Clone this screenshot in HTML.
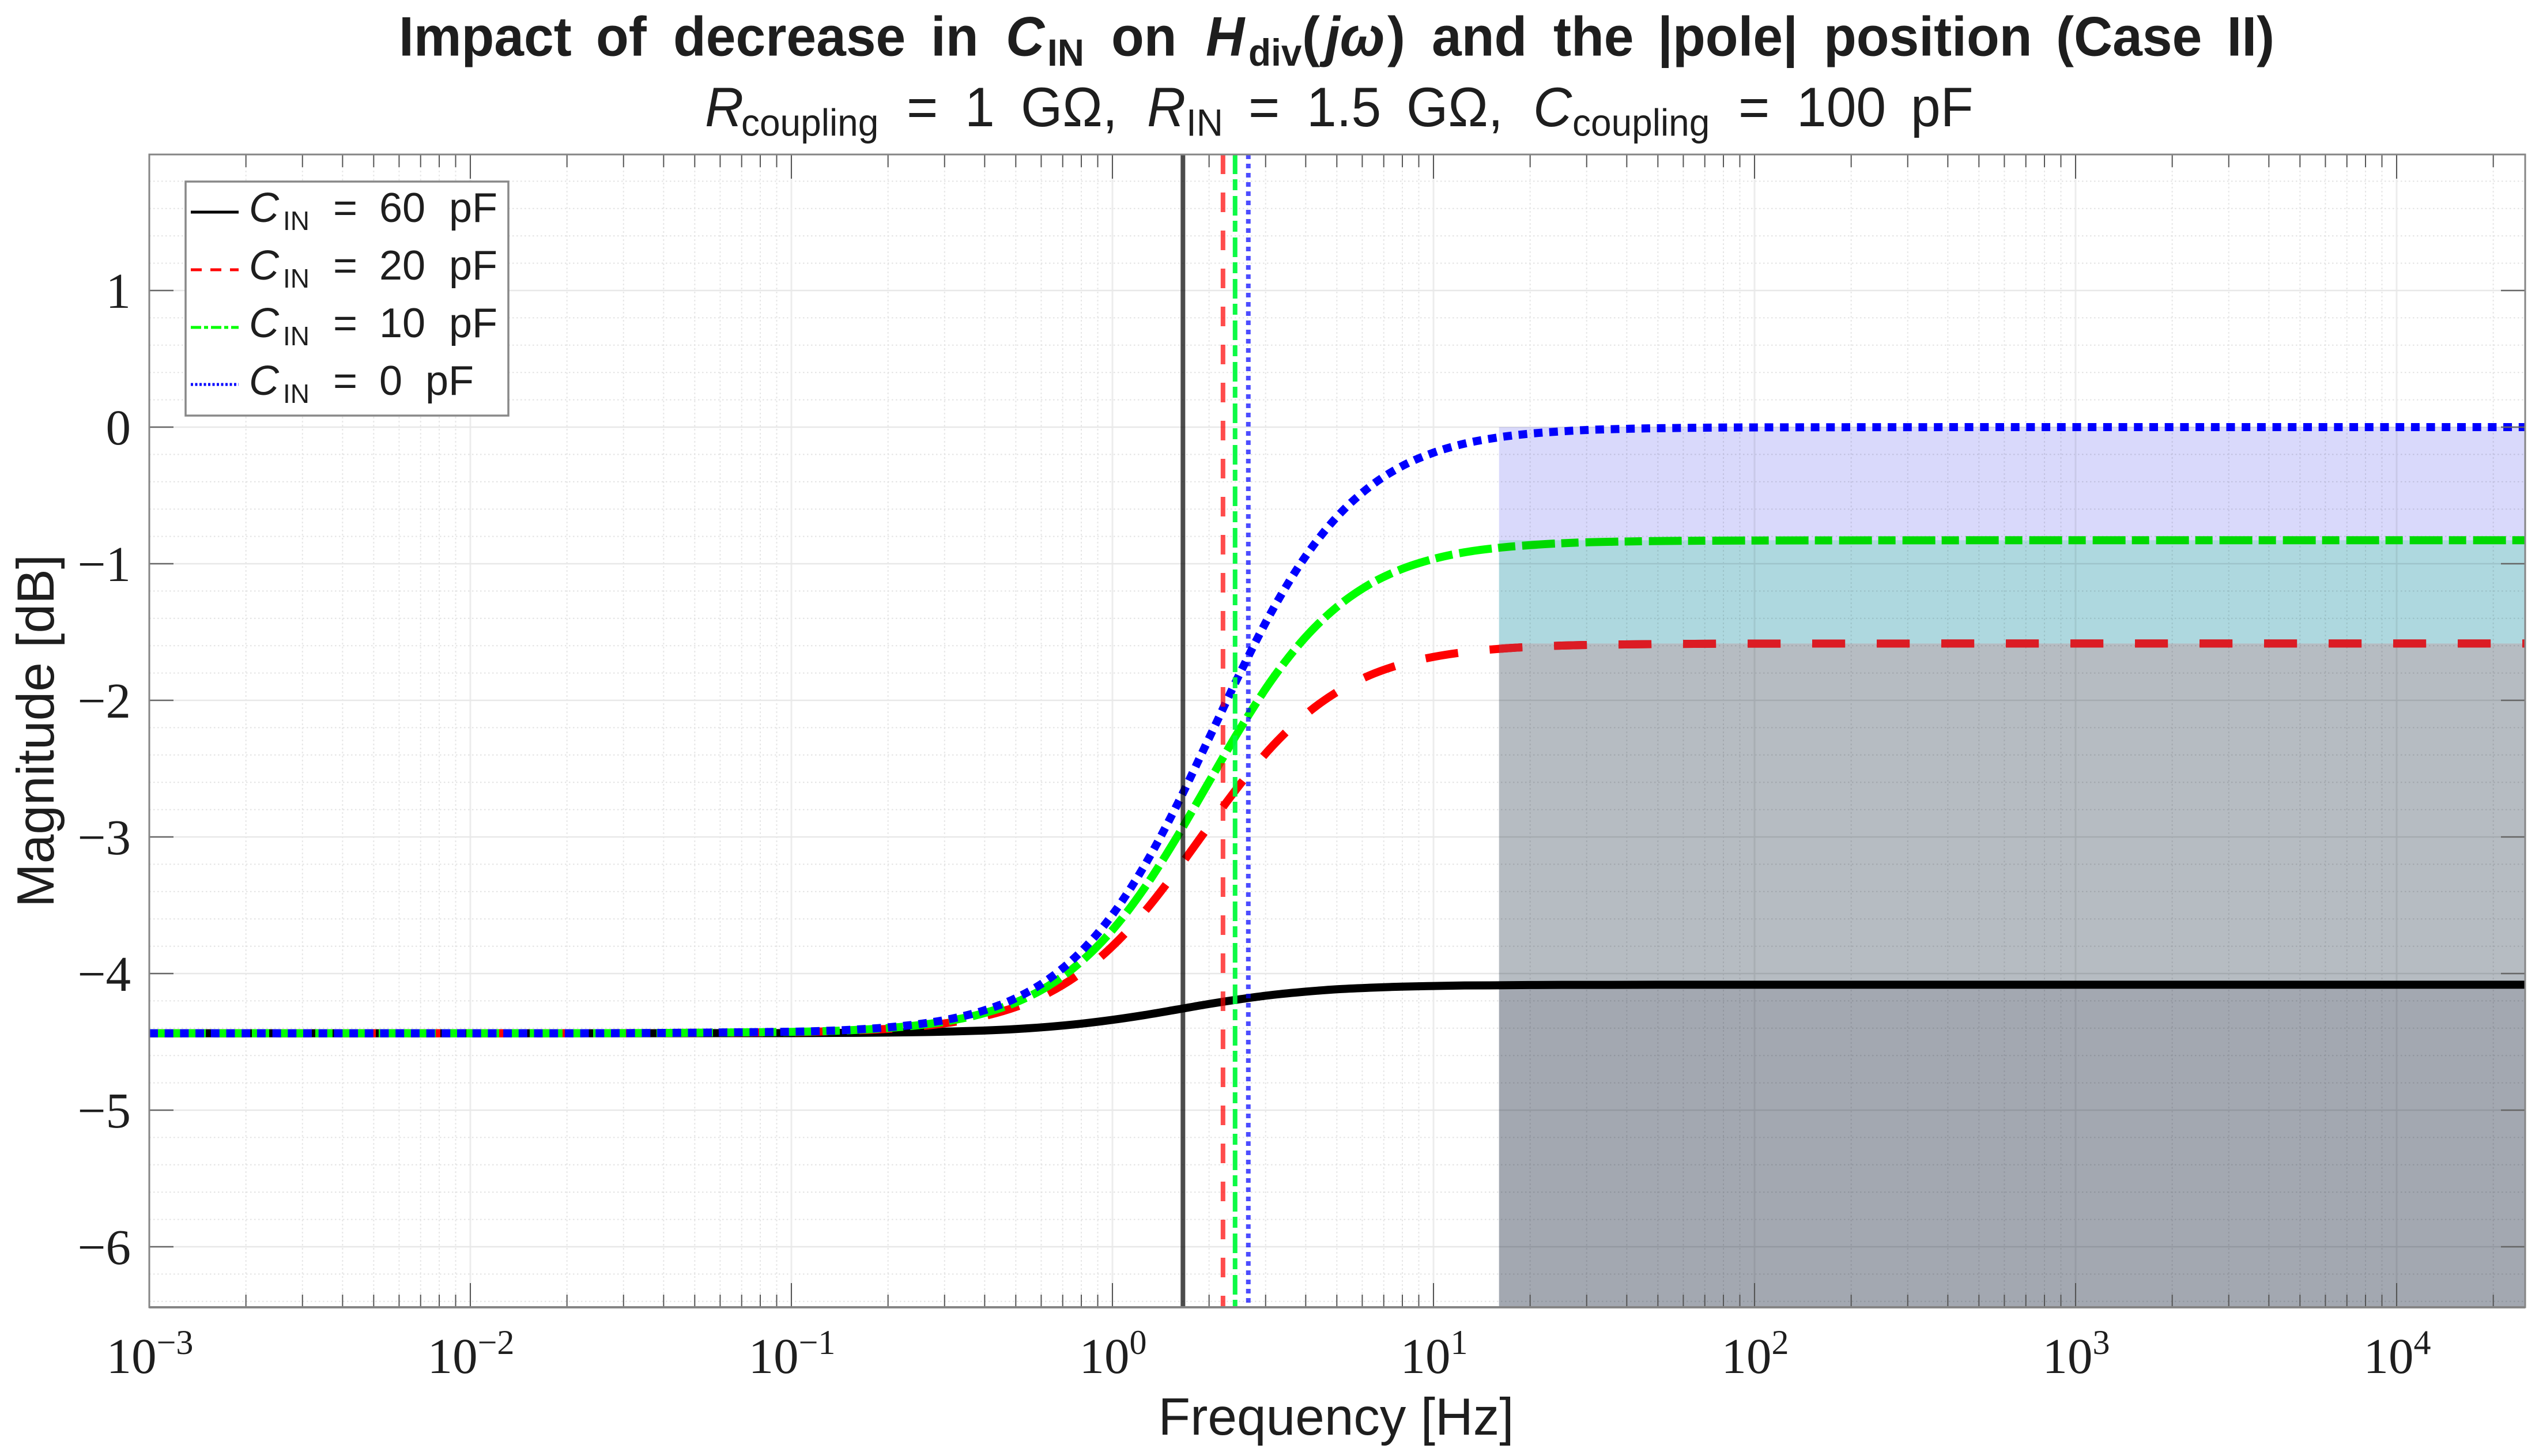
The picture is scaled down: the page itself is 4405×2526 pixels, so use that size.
<!DOCTYPE html>
<html lang="en">
<head>
<meta charset="utf-8">
<title>Impact of decrease in C_IN on H_div</title>
<style>
html,body{margin:0;padding:0;background:#fff;}
svg{display:block;}
text{font-family:"Liberation Sans",sans-serif;fill:#1e1e1e;}
.serif{font-family:"Liberation Serif",serif;}
</style>
</head>
<body>
<svg id="chart" xmlns="http://www.w3.org/2000/svg" width="4405" height="2526" viewBox="0 0 4405 2526">
  <rect x="0" y="0" width="4405" height="2526" fill="#ffffff"/>
  <rect x="259" y="268" width="4122" height="2000" fill="#ffffff"/>
  <defs id="chart-defs"><clipPath id="plot-clip"><rect x="259" y="268" width="4122" height="2000"/></clipPath></defs>
  <g id="grid-layer"></g>
  <g id="curve-layer" clip-path="url(#plot-clip)"></g>
  <g id="band-layer"></g>
  <g id="pole-layer"></g>
  <g id="tick-layer"></g>
  <rect x="259" y="268" width="4122" height="2000" fill="none" stroke="#858585" stroke-width="3"/>
  <line x1="259" y1="2268" x2="4381" y2="2268" stroke="#858585" stroke-width="4"/>
  <g id="label-layer"></g>

  <text transform="translate(0,96.5) scale(1,1.035)" y="0" font-size="93" font-weight="bold"><tspan x="692">Impact </tspan><tspan x="1034">of </tspan><tspan x="1168">decrease </tspan><tspan x="1615">in </tspan><tspan x="1745" font-style="italic">C</tspan><tspan x="1817" font-size="64" dy="17">IN</tspan><tspan x="1928" dy="-17">on </tspan><tspan x="2092" font-style="italic">H</tspan><tspan x="2166" font-size="64" dy="17">div</tspan><tspan x="2259" dy="-17">(</tspan><tspan x="2299" font-style="italic">jω</tspan><tspan x="2407">) </tspan><tspan x="2484">and </tspan><tspan x="2695">the </tspan><tspan x="2876">|pole| </tspan><tspan x="3164">position </tspan><tspan x="3567">(</tspan><tspan x="3598">Case </tspan><tspan x="3863.5">II)</tspan></text>
  <text transform="translate(0,219) scale(1,1.035)" y="0" font-size="93"><tspan x="1223" font-style="italic">R</tspan><tspan x="1286" font-size="64" dy="16">coupling </tspan><tspan x="1573" dy="-16">= </tspan><tspan x="1674">1 </tspan><tspan x="1771">GΩ, </tspan><tspan x="1990" font-style="italic">R</tspan><tspan x="2058" font-size="64" dy="16">IN </tspan><tspan x="2166" dy="-16">= </tspan><tspan x="2267">1.5 </tspan><tspan x="2440">GΩ, </tspan><tspan x="2660" font-style="italic">C</tspan><tspan x="2728" font-size="64" dy="16">coupling </tspan><tspan x="3016" dy="-16">= </tspan><tspan x="3117">100 </tspan><tspan x="3315">pF</tspan></text>
  <text x="2318" y="2489" font-size="91" text-anchor="middle">Frequency [Hz]</text>
  <text transform="translate(93,1268) rotate(-90)" font-size="91" text-anchor="middle">Magnitude [dB]</text>

  <g>
    <rect x="322" y="315" width="560" height="406" fill="#ffffff" stroke="#888888" stroke-width="3.5"/>
    <g>
      <line x1="331" y1="368" x2="414" y2="368" stroke="#000000" stroke-width="5"/>
      <text y="385" font-size="72"><tspan x="432" font-style="italic">C</tspan><tspan x="491" dy="14" font-size="46">IN</tspan><tspan x="578" dy="-14">=</tspan><tspan x="658">60</tspan><tspan x="779">pF</tspan></text>
    </g>
    <g>
      <line x1="331" y1="468" x2="414" y2="468" stroke="#ff0000" stroke-width="5" stroke-dasharray="19 15"/>
      <text y="485" font-size="72"><tspan x="432" font-style="italic">C</tspan><tspan x="491" dy="14" font-size="46">IN</tspan><tspan x="578" dy="-14">=</tspan><tspan x="658">20</tspan><tspan x="779">pF</tspan></text>
    </g>
    <g>
      <line x1="331" y1="568" x2="414" y2="568" stroke="#00ff00" stroke-width="5" stroke-dasharray="18 5 7 5"/>
      <text y="585" font-size="72"><tspan x="432" font-style="italic">C</tspan><tspan x="491" dy="14" font-size="46">IN</tspan><tspan x="578" dy="-14">=</tspan><tspan x="658">10</tspan><tspan x="779">pF</tspan></text>
    </g>
    <g>
      <line x1="331" y1="667" x2="414" y2="667" stroke="#0000ff" stroke-width="5" stroke-dasharray="4 3.5"/>
      <text y="685" font-size="72"><tspan x="432" font-style="italic">C</tspan><tspan x="491" dy="14" font-size="46">IN</tspan><tspan x="578" dy="-14">=</tspan><tspan x="658">0</tspan><tspan x="738">pF</tspan></text>
    </g>
  </g>
</svg>
<script>
const frequencies = [0.001,0.01,0.0316,0.1,0.1259,0.1585,0.1995,0.2512,0.3162,0.3981,0.5012,0.631,0.7943,1,1.259,1.585,1.995,2.512,3.162,3.981,5.012,6.31,7.943,10,12.59,15.85,19.95,25.12,31.62,50.12,100,1000,25119];
const magnitude60pF = [-4.437,-4.437,-4.437,-4.436,-4.435,-4.434,-4.432,-4.429,-4.424,-4.417,-4.406,-4.390,-4.368,-4.339,-4.304,-4.264,-4.223,-4.187,-4.156,-4.133,-4.115,-4.104,-4.096,-4.091,-4.087,-4.086,-4.084,-4.083,-4.083,-4.082,-4.082,-4.082,-4.082];
const magnitude20pF = [-4.437,-4.437,-4.436,-4.429,-4.424,-4.416,-4.405,-4.386,-4.357,-4.312,-4.244,-4.143,-3.998,-3.800,-3.547,-3.246,-2.923,-2.608,-2.331,-2.107,-1.938,-1.818,-1.736,-1.682,-1.646,-1.624,-1.609,-1.599,-1.594,-1.588,-1.585,-1.584,-1.584];
const magnitude10pF = [-4.437,-4.437,-4.436,-4.427,-4.422,-4.413,-4.399,-4.377,-4.343,-4.290,-4.210,-4.091,-3.918,-3.681,-3.373,-3.004,-2.600,-2.199,-1.838,-1.541,-1.315,-1.152,-1.040,-0.965,-0.915,-0.884,-0.864,-0.850,-0.842,-0.834,-0.830,-0.828,-0.828];
const magnitude0pF = [-4.437,-4.437,-4.436,-4.426,-4.420,-4.410,-4.394,-4.369,-4.330,-4.270,-4.179,-4.042,-3.844,-3.569,-3.209,-2.771,-2.282,-1.788,-1.333,-0.951,-0.655,-0.439,-0.288,-0.187,-0.119,-0.076,-0.048,-0.031,-0.019,-0.008,-0.002,0,0];
const poleFrequencies = [1.658,2.21,2.41,2.65];
const bandStartFrequency = 16;
const xTickExponents = [-3,-2,-1,0,1,2,3,4];
const xTickExponentLabels = ["−3","−2","−1","0","1","2","3","4"];
const yTickValues = [1,0,-1,-2,-3,-4,-5,-6];
const yTickLabels = ["1","0","−1","−2","−3","−4","−5","−6"];
const yMinorValues = [1.8,1.6,1.4,1.2,0.8,0.6,0.4,0.2,-0.2,-0.4,-0.6,-0.8,-1.2,-1.4,-1.6,-1.8,-2.2,-2.4,-2.6,-2.8,-3.2,-3.4,-3.6,-3.8,-4.2,-4.4,-4.6,-4.8,-5.2,-5.4,-5.6,-5.8,-6.2,-6.4];
const minorMultipliers = [2,3,4,5,6,7,8,9];

const PLOT = {left:259, right:4381, top:268, bottom:2268};
const xScale = f => 259 + 557 * (Math.log10(f) + 3);
const yScale = v => 741 - 237 * v;
const NS = "http://www.w3.org/2000/svg";
function make(tag, attrs, parent){
  const el = document.createElementNS(NS, tag);
  for (const k in attrs) el.setAttribute(k, attrs[k]);
  parent.appendChild(el);
  return el;
}
const gridLayer = document.getElementById("grid-layer");
const curveLayer = document.getElementById("curve-layer");
const bandLayer = document.getElementById("band-layer");
const poleLayer = document.getElementById("pole-layer");
const tickLayer = document.getElementById("tick-layer");
const labelLayer = document.getElementById("label-layer");
const chartDefs = document.getElementById("chart-defs");

// minor grid + minor ticks (x)
xTickExponents.forEach(function(e){
  minorMultipliers.forEach(function(m){
    const x = xScale(m * Math.pow(10, e));
    if (x >= PLOT.right) return;
    const g = make("line", {x1:x, x2:x, y1:PLOT.top, y2:PLOT.bottom, stroke:"#e6e6e6", "stroke-width":2, "stroke-dasharray":"3 4"}, gridLayer);
    
    
    const t1 = make("line", {x1:x, x2:x, y1:PLOT.bottom, y2:PLOT.bottom-22, stroke:"#555", "stroke-width":2}, tickLayer);
    
    
    const t2 = make("line", {x1:x, x2:x, y1:PLOT.top, y2:PLOT.top+22, stroke:"#555", "stroke-width":2}, tickLayer);
    
    
  });
});
// y minor grid
yMinorValues.forEach(function(v){
  const y = yScale(v);
  const g = make("line", {x1:PLOT.left, x2:PLOT.right, y1:y, y2:y, stroke:"#e2e2e2", "stroke-width":2, "stroke-dasharray":"2.5 4.5"}, gridLayer);
  
  
});
// x major
xTickExponents.forEach(function(e, i){
  const x = xScale(Math.pow(10, e));
  if (i > 0) {
    const g = make("line", {x1:x, x2:x, y1:PLOT.top, y2:PLOT.bottom, stroke:"#ececec", "stroke-width":3}, gridLayer);
    
    
    const t1 = make("line", {x1:x, x2:x, y1:PLOT.bottom, y2:PLOT.bottom-42, stroke:"#555", "stroke-width":2}, tickLayer);
    
    
    const t2 = make("line", {x1:x, x2:x, y1:PLOT.top, y2:PLOT.top+42, stroke:"#555", "stroke-width":2}, tickLayer);
    
    
  }
  const lab = make("text", {x:x+1, y:2382, "font-size":87, "text-anchor":"middle", class:"serif"}, labelLayer);
  
  
  lab.appendChild(document.createTextNode("10"));
  const sup = make("tspan", {dy:-33, "font-size":60}, lab);
  sup.textContent = xTickExponentLabels[i];
});
// y major
yTickValues.forEach(function(v, i){
  const y = yScale(v);
  const g = make("line", {x1:PLOT.left, x2:PLOT.right, y1:y, y2:y, stroke:"#e8e8e8", "stroke-width":2.5}, gridLayer);
  
  
  const t1 = make("line", {x1:PLOT.left, x2:PLOT.left+42, y1:y, y2:y, stroke:"#666", "stroke-width":2.5}, tickLayer);
  
  
  const t2 = make("line", {x1:PLOT.right, x2:PLOT.right-42, y1:y, y2:y, stroke:"#666", "stroke-width":2.5}, tickLayer);
  
  
  const lab = make("text", {x:227, y:y+30, "font-size":87, "text-anchor":"end", class:"serif"}, labelLayer);
  
  
  lab.textContent = yTickLabels[i];
});

function curvePath(values){
  const xs = frequencies.map(xScale);
  const ys = values.map(yScale);
  const n = xs.length;
  const slope = [];
  for (let i = 0; i < n; i++) {
    const a = Math.max(0, i-1), b = Math.min(n-1, i+1);
    slope.push((ys[b]-ys[a])/(xs[b]-xs[a]));
  }
  let d = "M" + xs[0].toFixed(2) + " " + ys[0].toFixed(2);
  for (let i = 0; i < n-1; i++) {
    const dx = (xs[i+1]-xs[i]);
    const c1x = xs[i]+dx/3, c1y = ys[i]+slope[i]*dx/3;
    const c2x = xs[i+1]-dx/3, c2y = ys[i+1]-slope[i+1]*dx/3;
    d += "C" + c1x.toFixed(2)+" "+c1y.toFixed(2)+" "+c2x.toFixed(2)+" "+c2y.toFixed(2)+" "+xs[i+1].toFixed(2)+" "+ys[i+1].toFixed(2);
  }
  return d;
}
const curve60 = make("path", {d:curvePath(magnitude60pF), fill:"none", stroke:"#000000", "stroke-width":14}, curveLayer);


const curve20 = make("path", {d:curvePath(magnitude20pF), fill:"none", stroke:"#ff0000", "stroke-width":14, "stroke-dasharray":"57 55"}, curveLayer);


const curve10 = make("path", {d:curvePath(magnitude10pF), fill:"none", stroke:"#00ff00", "stroke-width":14, "stroke-dasharray":"57 11 30 12"}, curveLayer);


const curve0 = make("path", {d:curvePath(magnitude0pF), fill:"none", stroke:"#0000ff", "stroke-width":14, "stroke-dasharray":"15 11.7"}, curveLayer);



// plateau bands, top edge of each is that series' final value
const bandX = xScale(bandStartFrequency);
const plateau0 = magnitude0pF[magnitude0pF.length-1];
const plateau10 = magnitude10pF[magnitude10pF.length-1];
const plateau20 = magnitude20pF[magnitude20pF.length-1];
const plateau60 = magnitude60pF[magnitude60pF.length-1];
function band(topY, bottomY, color){
  return make("rect", {x:bandX, y:topY, width:PLOT.right-bandX, height:Math.max(0,bottomY-topY), fill:color, style:"mix-blend-mode:multiply"}, bandLayer);
}
const band0 = band(yScale(plateau0), yScale(plateau10), "#d9d9fb");


const band10 = band(yScale(plateau10), yScale(plateau20), "#aed8df");


const band20 = band(yScale(plateau20), yScale(plateau60), "#b6bcc2");


const band60 = band(yScale(plateau60), PLOT.bottom, "#a3a8b1");



// tinted red dashes where the 20 pF curve runs through the bands
const bandClip = make("clipPath", {id:"band-clip"}, chartDefs);
make("rect", {x:bandX, y:PLOT.top, width:PLOT.right-bandX, height:PLOT.bottom-PLOT.top}, bandClip);
const curve20Tint = make("path", {d:curvePath(magnitude20pF), fill:"none", stroke:"#dc1c24", "stroke-width":14, "stroke-dasharray":"57 55", "clip-path":"url(#band-clip)"}, bandLayer);



// pole markers
function poleLine(freq, color, dash){
  const x = xScale(freq);
  const attrs = {x1:x, x2:x, y1:PLOT.top, y2:PLOT.bottom, stroke:color, "stroke-width":8};
  if (dash) attrs["stroke-dasharray"] = dash;
  return make("line", attrs, poleLayer);
}
const pole60 = poleLine(poleFrequencies[0], "rgba(0,0,0,0.7)", "");


const pole20 = poleLine(poleFrequencies[1], "rgba(255,0,0,0.7)", "34 32");


const pole10 = poleLine(poleFrequencies[2], "rgba(0,250,60,0.95)", "34 9 19 10");


const pole0 = poleLine(poleFrequencies[3], "rgba(0,0,255,0.7)", "8 8");


</script>
</body>
</html>
